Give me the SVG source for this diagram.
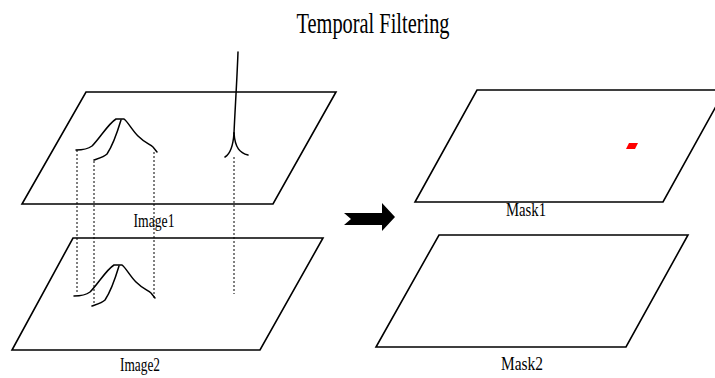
<svg xmlns="http://www.w3.org/2000/svg" width="715" height="378" viewBox="0 0 715 378">
<style>
.plane{fill:none;stroke:#000;stroke-width:1.6;stroke-linejoin:miter}
.curve{fill:none;stroke:#000;stroke-width:1.5;stroke-linecap:round}
.dot{fill:none;stroke:#000;stroke-width:1;stroke-dasharray:2 2}
text{font-family:"Liberation Serif",serif;fill:#000}
.lbl{font-size:19px}
</style>
<rect width="715" height="378" fill="#fff"/>
<text x="373" y="33" font-size="29" text-anchor="middle" textLength="153" lengthAdjust="spacingAndGlyphs">Temporal Filtering</text>
<g id="image1">
<polygon class="plane" points="86,92 336,92 273,204 22,204"/>
<text class="lbl" x="154" y="227" text-anchor="middle" textLength="41" lengthAdjust="spacingAndGlyphs">Image1</text>
<path class="curve" d="M76,150 C84,150 88,149 92,146 C100,138 108,124 116,119 L124,119 C128,122 132,130 138,136 C144,142 149,144 153,147 L157,152"/>
<path class="curve" d="M94,160 C100,158 104,157 107,154 C113,145 118,130 121,120"/>
<path class="curve" d="M238,52 C237,80 235,110 234,133"/>
<path class="curve" d="M234,133 C233,148 230,154 225,157"/>
<path class="curve" d="M234,133 C235,148 240,153 248,155"/>
</g>
<g id="image2">
<polygon class="plane" points="73,238 323,238 260,350 12,350"/>
<text class="lbl" x="140" y="371" text-anchor="middle" textLength="40" lengthAdjust="spacingAndGlyphs">Image2</text>
<g transform="translate(-2,146)">
<path class="curve" d="M76,150 C84,150 88,149 92,146 C100,138 108,124 116,119 L124,119 C128,122 132,130 138,136 C144,142 149,144 153,147 L157,152"/>
<path class="curve" d="M94,160 C100,158 104,157 107,154 C113,145 118,130 121,120"/>
</g>
</g>
<g id="connectors">
<line class="dot" x1="77" y1="150" x2="77" y2="293"/>
<line class="dot" x1="94" y1="161" x2="94" y2="305"/>
<line class="dot" x1="154" y1="152" x2="154" y2="299"/>
<line class="dot" x1="234" y1="157" x2="234" y2="294"/>
<polygon id="arrow" points="344,213 382,213 382,203 395,217 382,231 382,225 344,225 351,219" fill="#000"/>
</g>
<g id="mask1">
<polygon class="plane" points="477,90 725,90 663,202 415,202"/>
<polygon points="629,143 638,143 635,149 626,149" fill="#ff0000"/>
<text class="lbl" x="526" y="216" text-anchor="middle" textLength="40" lengthAdjust="spacingAndGlyphs">Mask1</text>
</g>
<g id="mask2">
<polygon class="plane" points="439,235 688,235 626,347 376,347"/>
<text class="lbl" x="522" y="370" text-anchor="middle" textLength="42" lengthAdjust="spacingAndGlyphs">Mask2</text>
</g>
</svg>
